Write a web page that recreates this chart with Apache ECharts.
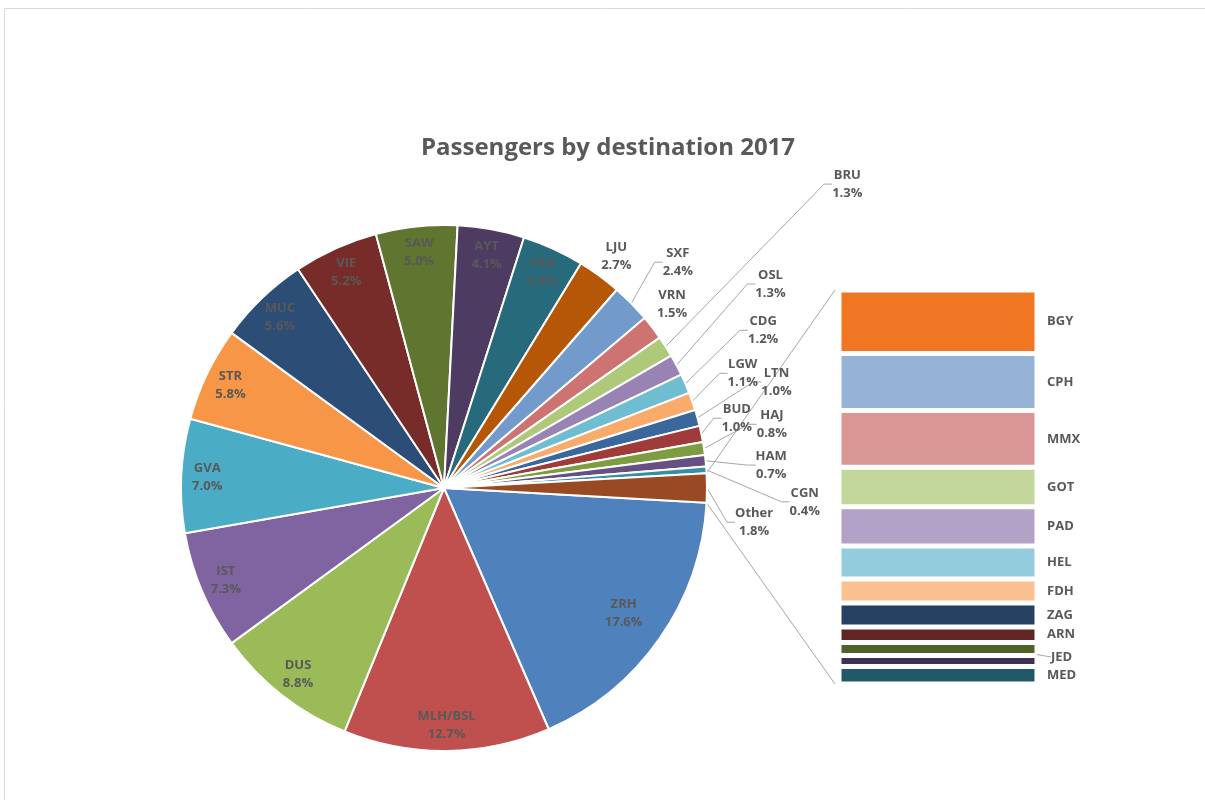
<!DOCTYPE html>
<html>
<head>
<meta charset="utf-8">
<script src="https://cdn.jsdelivr.net/npm/echarts@6/dist/echarts.min.js"></script>
<style>
  html, body { margin: 0; padding: 0; background: #fff; }
  #main { width: 1205px; height: 800px; }
</style>
</head>
<body>
<div id="main"></div>
<script>
// pie slices, clockwise from ZRH (share of passengers, %)
var pieNames = ['ZRH', 'MLH/BSL', 'DUS', 'IST', 'GVA', 'STR', 'MUC', 'VIE', 'SAW', 'AYT', 'FRA', 'LJU',
  'SXF', 'VRN', 'BRU', 'OSL', 'CDG', 'LGW', 'LTN', 'BUD', 'HAJ', 'HAM', 'CGN', 'Other'];
var pieValues = [17.6, 12.7, 8.8, 7.3, 7.0, 5.8, 5.6, 5.2, 5.0, 4.1, 3.8, 2.7,
  2.4, 1.5, 1.3, 1.3, 1.2, 1.1, 1.0, 1.0, 0.8, 0.7, 0.4, 1.8];

// destinations that make up "Other", shown as the stacked bar (top to bottom)
var barNames = ['BGY', 'CPH', 'MMX', 'GOT', 'PAD', 'HEL', 'FDH', 'ZAG', 'ARN', 'JED', '', 'MED'];
var barValues = [0.29, 0.26, 0.26, 0.18, 0.18, 0.15, 0.11, 0.11, 0.07, 0.06, 0.05, 0.08];

var pieColors = ['#4F81BD', '#C0504D', '#9BBB59', '#8064A2', '#4BACC6', '#F79646', '#2C4D75', '#772C2A',
  '#5F7530', '#4D3B62', '#276A7C', '#B65708', '#729ACA', '#CD7371', '#AFC97A', '#9983B5', '#6FBDD1',
  '#F9AB6B', '#3A679C', '#9F3B38', '#7E9D40', '#664F83', '#358EA6', '#984B22'];
var barColors = ['#F07622', '#95B3D7', '#D99694', '#C3D69B', '#B3A2C7', '#93CDDD', '#FAC090',
  '#254061', '#632523', '#4F6228', '#3F3151', '#215968'];

// where the small slices' labels sit: [angle deg, distance from pie centre px]
var outsideLabels = {
  'LJU': [53.4, 289], 'SXF': [44.0, 325], 'VRN': [38.9, 293], 'BRU': [37.0, 505],
  'OSL': [32.0, 385], 'CDG': [26.3, 356], 'LGW': [21.0, 320], 'LTN': [17.7, 349],
  'BUD': [13.4, 301], 'HAJ': [11.0, 334], 'HAM': [4.0, 328], 'CGN': [-2.2, 361], 'Other': [-6.3, 312]
};
var noLeader = ['LJU', 'VRN'];

var FONT = '"Open Sans", "DejaVu Sans", sans-serif';
var TXT = '#595959';
var LINE = '#A6A6A6';
var CX = 444, CY = 488, R = 263;
var BAR = { left: 839, top: 290, width: 198, height: 394 };

var total = pieValues.reduce(function (a, b) { return a + b; }, 0);
var otherShare = pieValues[pieValues.length - 1] / total;
var startAngle = -otherShare * 180; // keeps "Other" centred on the right
var barTotal = barValues.reduce(function (a, b) { return a + b; }, 0);

// mid angle of each slice
var midAngles = [];
var cum = 0;
pieValues.forEach(function (v) {
  midAngles.push(startAngle - (cum + v / 2) / total * 360);
  cum += v;
});

var pieData = pieNames.map(function (n, i) {
  var outside = !!outsideLabels[n];
  return {
    name: n,
    value: pieValues[i],
    itemStyle: { color: pieColors[i] },
    label: { position: outside ? 'outside' : 'inside' },
    labelLine: { show: outside && noLeader.indexOf(n) < 0 }
  };
});

var labelStyle = {
  fontFamily: FONT,
  fontSize: 13,
  fontWeight: 'bold',
  color: TXT,
  lineHeight: 18
};

var barSeries = barNames.map(function (n, i) {
  var s = {
    name: n,
    type: 'bar',
    stack: 'other',
    barWidth: '100%',
    data: [barValues[i]],
    itemStyle: { color: barColors[i], borderColor: '#fff', borderWidth: 2.5 },
    label: Object.assign({
      show: n !== '',
      position: 'right',
      distance: 10,
      formatter: n
    }, labelStyle),
    silent: true
  };
  if (n === 'JED') {
    s.labelLayout = { dx: 4, dy: 8 };
    s.labelLine = { show: true, lineStyle: { color: LINE, width: 1 } };
  }
  return s;
});

var chart = echarts.init(document.getElementById('main'));

chart.setOption({
  animation: false,
  backgroundColor: '#fff',
  title: {
    text: 'Passengers by destination 2017',
    left: 416,
    top: 131,
    textStyle: { fontFamily: FONT, fontSize: 24, fontWeight: 'bold', color: TXT }
  },
  grid: BAR,
  xAxis: { type: 'category', data: ['Other'], show: false },
  yAxis: { type: 'value', inverse: true, min: 0, max: barTotal, show: false },
  series: [{
    type: 'pie',
    center: [CX, CY],
    radius: [0, R],
    startAngle: startAngle,
    clockwise: true,
    avoidLabelOverlap: false,
    silent: true,
    data: pieData,
    itemStyle: { borderColor: '#fff', borderWidth: 2 },
    label: Object.assign({
      show: true,
      formatter: function (p) { return p.name + '\n' + p.value.toFixed(1) + '%'; }
    }, labelStyle),
    labelLine: { lineStyle: { color: LINE, width: 1 }, length: 10, length2: 8 },
    labelLayout: function (p) {
      var n = pieNames[p.dataIndex];
      var spot = outsideLabels[n];
      var ang, dist;
      if (spot) {
        ang = spot[0]; dist = spot[1];
      } else {
        ang = midAngles[p.dataIndex];
        dist = n === 'ZRH' ? 219 : 237;
      }
      var a = ang * Math.PI / 180;
      return {
        x: CX + dist * Math.cos(a),
        y: CY - dist * Math.sin(a),
        align: 'center',
        verticalAlign: 'middle'
      };
    }
  }].concat(barSeries)
});

// series lines from the "Other" slice to the bar
var aUp = (startAngle + otherShare * 360) * Math.PI / 180;
var aDown = startAngle * Math.PI / 180;
var yTop = chart.convertToPixel({ yAxisIndex: 0 }, 0);
var yBottom = chart.convertToPixel({ yAxisIndex: 0 }, barTotal);
var xBar = BAR.left - 4;

chart.setOption({
  graphic: [
    {
      type: 'rect', silent: true,
      shape: { x: 4.5, y: 8.5, width: 1400, height: 1000 },
      style: { fill: null, stroke: '#D9D9D9', lineWidth: 1 }
    },
    {
      type: 'line', silent: true,
      shape: { x1: CX + R * Math.cos(aUp), y1: CY - R * Math.sin(aUp), x2: xBar, y2: yTop },
      style: { stroke: LINE, lineWidth: 1 }
    },
    {
      type: 'line', silent: true,
      shape: { x1: CX + R * Math.cos(aDown), y1: CY - R * Math.sin(aDown), x2: xBar, y2: yBottom },
      style: { stroke: LINE, lineWidth: 1 }
    }
  ]
});
</script>
</body>
</html>
